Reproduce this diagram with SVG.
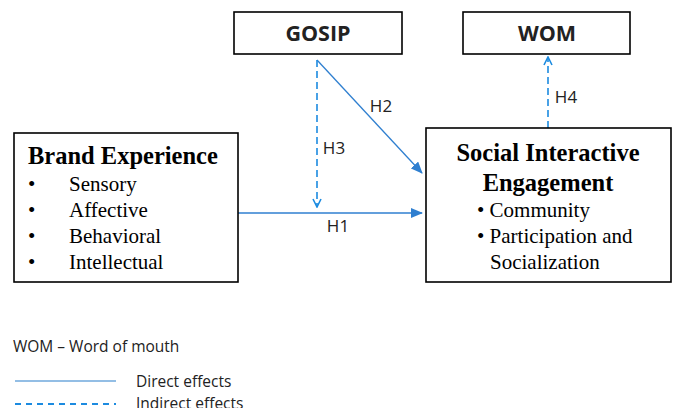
<svg xmlns="http://www.w3.org/2000/svg" width="676" height="408" viewBox="0 0 676 408">
<style>
.box{fill:#fff;stroke:#000;stroke-width:1.6}
.ser{font-family:"Liberation Serif",serif;fill:#000}
.b{font-weight:bold}
.sans{font-family:"Open Sans","Liberation Sans",sans-serif;fill:#222}
.solid{stroke:#2F7FD0;stroke-width:1.3;fill:none}
.dash{stroke:#1C8BE0;stroke-width:1.6;fill:none;stroke-dasharray:7,4}
</style>
<defs>
<marker id="af" markerWidth="12" markerHeight="10" refX="11" refY="5" orient="auto" markerUnits="userSpaceOnUse">
<path d="M0,0 L12,5 L0,10 Z" fill="#2F7FD0"/>
</marker>
<marker id="ao" markerWidth="10" markerHeight="10" refX="9" refY="5" orient="auto" markerUnits="userSpaceOnUse">
<path d="M1,1 L9,5 L1,9" fill="none" stroke="#1C8BE0" stroke-width="1.6"/>
</marker>
</defs>
<g id="connectors">
<line class="solid" x1="238" y1="213" x2="422" y2="213" marker-end="url(#af)"/>
<line class="solid" x1="317" y1="60" x2="422" y2="173" marker-end="url(#af)"/>
<line class="dash" x1="317" y1="60" x2="317" y2="207" marker-end="url(#ao)"/>
<line class="dash" x1="548" y1="128" x2="548" y2="57" marker-end="url(#ao)"/>
<text class="sans" x="338" y="232" font-size="17" text-anchor="middle">H1</text>
<text class="sans" x="381" y="112" font-size="17" text-anchor="middle">H2</text>
<text class="sans" x="334" y="154" font-size="17" text-anchor="middle">H3</text>
<text class="sans" x="566" y="103" font-size="17" text-anchor="middle">H4</text>
</g>
<g id="gosip">
<rect class="box" x="234" y="12" width="168" height="42"/>
<text class="sans b" x="318" y="41" font-size="21.5" text-anchor="middle" fill="#111">GOSIP</text>
</g>
<g id="wom">
<rect class="box" x="463" y="12" width="167" height="42"/>
<text class="sans b" x="547" y="41" font-size="21.5" text-anchor="middle" fill="#111">WOM</text>
</g>
<g id="brand-experience">
<rect class="box" x="14" y="133" width="224" height="149"/>
<text class="ser b" x="28" y="164" font-size="24.5">Brand Experience</text>
<g class="ser" font-size="21">
<text x="28" y="191">•</text><text x="69" y="191">Sensory</text>
<text x="28" y="217">•</text><text x="69" y="217">Affective</text>
<text x="28" y="243">•</text><text x="69" y="243">Behavioral</text>
<text x="28" y="269">•</text><text x="69" y="269">Intellectual</text>
</g>
</g>
<g id="social-interactive-engagement">
<rect class="box" x="426" y="128" width="245" height="154"/>
<text class="ser b" x="548" y="161" font-size="24.5" text-anchor="middle">Social Interactive</text>
<text class="ser b" x="548" y="191" font-size="24.5" text-anchor="middle">Engagement</text>
<g class="ser" font-size="21">
<text x="477" y="217">• Community</text>
<text x="477" y="243">• Participation and</text>
<text x="490" y="269">Socialization</text>
</g>
</g>
<g id="legend">
<text class="sans" x="13" y="352" font-size="15.5">WOM – Word of mouth</text>
<line x1="15" y1="381" x2="116" y2="381" stroke="#6FA8DC" stroke-width="1.5"/>
<text class="sans" x="136" y="387" font-size="15.5">Direct effects</text>
<line x1="15" y1="404" x2="116" y2="404" stroke="#1C8BE0" stroke-width="2" stroke-dasharray="6,5"/>
<text class="sans" x="136" y="409" font-size="15.5">Indirect effects</text>
</g>
</svg>
